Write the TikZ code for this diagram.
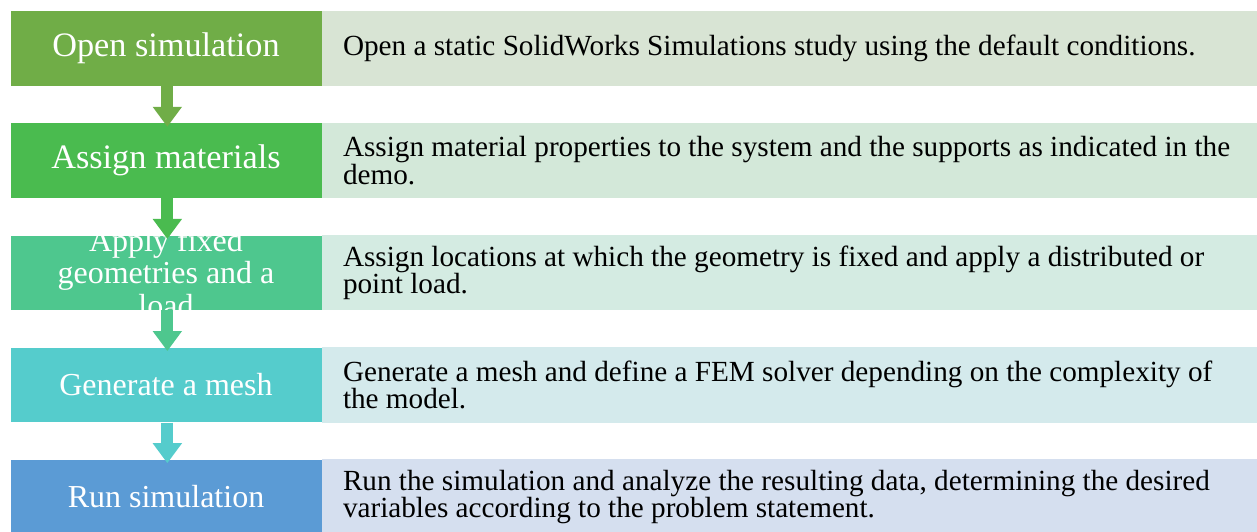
\documentclass[tikz,border=0pt]{standalone}
\usepackage{fontspec}
\setmainfont{Liberation Serif}
\usetikzlibrary{positioning,arrows.meta}

% step colours, dark for the titles and pale for the notes
\definecolor{openC}{HTML}{70AD47}
\definecolor{assignC}{HTML}{4ABB4F}
\definecolor{fixC}{HTML}{4EC78E}
\definecolor{meshC}{HTML}{55CCCC}
\definecolor{runC}{HTML}{5B9BD5}
\definecolor{openL}{HTML}{D8E4D4}
\definecolor{assignL}{HTML}{D3E8D9}
\definecolor{fixL}{HTML}{D4EBE2}
\definecolor{meshL}{HTML}{D4EAEC}
\definecolor{runL}{HTML}{D5DFEF}

\tikzset{
  stage/.style={fill=#1, draw=white, line width=0.6pt, minimum width=234pt,
    minimum height=56.6pt, inner sep=0pt, outer sep=0pt},
  bigtitle/.style={text=white, align=center, font=\fontsize{25.7}{26}\selectfont},
  title/.style={text=white, align=center, font=\fontsize{24}{24.4}\selectfont},
  note/.style={fill=#1, text width=700pt, align=flush left, inner xsep=15.75pt,
    inner ysep=0pt, minimum height=56.6pt, outer sep=0pt,
    font=\fontsize{21.9}{20.4}\selectfont},
  flow/.style={draw=#1, line width=9pt, -{Triangle[width=21pt,length=15pt]}}
}

\begin{document}
\begin{tikzpicture}[node distance=27.5pt]
\useasboundingbox (0,0) rectangle (942.75pt,-399pt);

% title boxes
\node[stage=openC, label={[bigtitle]center:Open simulation}] (open) at (124.5pt,-36.3pt) {};
\node[stage=assignC, below=of open, label={[bigtitle]center:Assign materials}] (assign) {};
\node[stage=fixC, below=of assign,
  label={[title]center:Apply fixed\\geometries and a\\load}] (fix) {};
\node[stage=meshC, below=of fix, label={[title]center:Generate a mesh}] (mesh) {};
\node[stage=runC, below=of mesh, label={[title]center:Run simulation}] (run) {};

% notes
\node[note=openL, right=0pt of open] (openN) {Open a static SolidWorks Simulations study using the default conditions.};
\node[note=assignL, right=0pt of assign] (assignN) {Assign material properties to the system and the supports as indicated in the\\demo.};
\node[note=fixL, right=0pt of fix] (fixN) {Assign locations at which the geometry is fixed and apply a distributed or\\point load.};
\node[note=meshL, right=0pt of mesh] (meshN) {Generate a mesh and define a FEM solver depending on the complexity of\\the model.};
\node[note=runL, right=0pt of run] (runN) {Run the simulation and analyze the resulting data, determining the desired\\variables according to the problem statement.};

% arrows between steps
\draw[flow=openC] ([xshift=1pt]open.south) -- ([xshift=1pt,yshift=-3pt]assign.north);
\draw[flow=assignC] ([xshift=1pt]assign.south) -- ([xshift=1pt,yshift=-3pt]fix.north);
\draw[flow=fixC] ([xshift=1pt]fix.south) -- ([xshift=1pt,yshift=-3pt]mesh.north);
\draw[flow=meshC] ([xshift=1pt]mesh.south) -- ([xshift=1pt,yshift=-3pt]run.north);
\end{tikzpicture}
\end{document}
